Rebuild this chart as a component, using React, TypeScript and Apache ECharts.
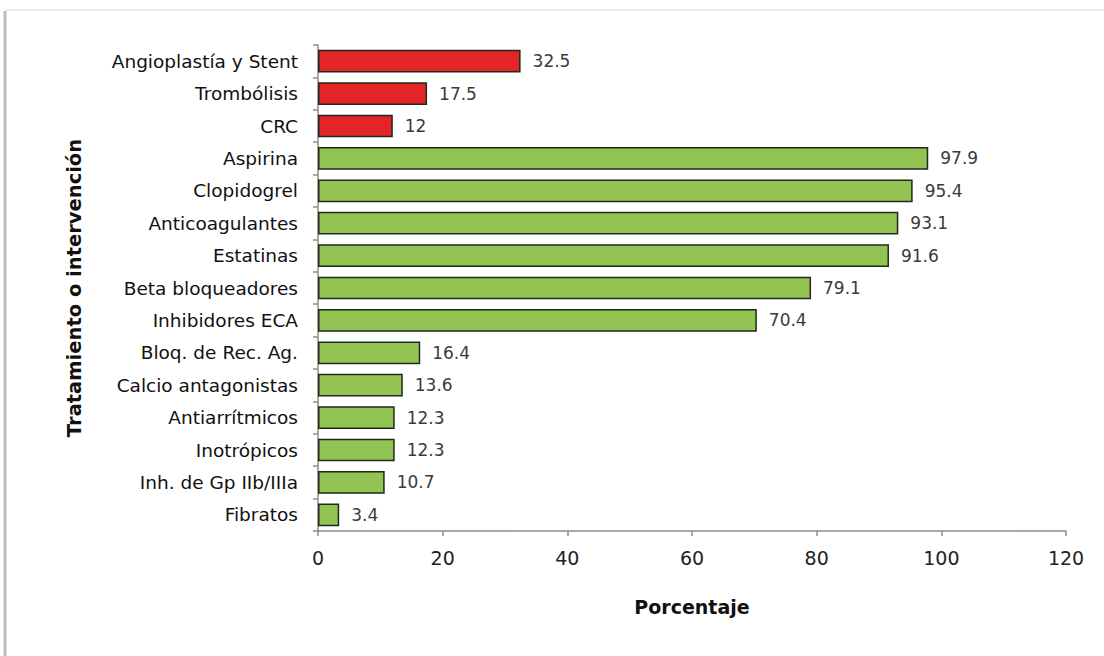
import React, { useEffect, useRef } from "react";
import * as echarts from "echarts";

// Treatments, top to bottom
const categories = [
  "Angioplastía y Stent",
  "Trombólisis",
  "CRC",
  "Aspirina",
  "Clopidogrel",
  "Anticoagulantes",
  "Estatinas",
  "Beta bloqueadores",
  "Inhibidores ECA",
  "Bloq. de Rec. Ag.",
  "Calcio antagonistas",
  "Antiarrítmicos",
  "Inotrópicos",
  "Inh. de Gp IIb/IIIa",
  "Fibratos",
];

const values = [32.5, 17.5, 12, 97.9, 95.4, 93.1, 91.6, 79.1, 70.4, 16.4, 13.6, 12.3, 12.3, 10.7, 3.4];

// Interventional procedures are shown in red, drugs in green
const procedureCount = 3;

const xTicks = [0, 20, 40, 60, 80, 100, 120];

const RED = "#e42527";
const GREEN = "#92c353";
const FONT = "'DejaVu Sans', Verdana, sans-serif";

export default function App() {
  const ref = useRef<HTMLDivElement>(null);

  useEffect(() => {
    if (!ref.current) return;
    const chart = echarts.init(ref.current, null, { renderer: "svg" });
    chart.setOption({
      animation: false,
      backgroundColor: "#ffffff",
      textStyle: { fontFamily: FONT },
      graphic: [
        {
          type: "line",
          shape: { x1: 5, y1: 11, x2: 5, y2: 656 },
          style: { stroke: "#bdbdbd", lineWidth: 3 },
        },
        {
          type: "line",
          shape: { x1: 5, y1: 10, x2: 1104, y2: 10 },
          style: { stroke: "#ececec", lineWidth: 2 },
        },
      ],
      grid: { left: 318, right: 38, top: 45, bottom: 125, containLabel: false },
      xAxis: {
        type: "value",
        min: xTicks[0],
        max: xTicks[xTicks.length - 1],
        interval: 20,
        name: "Porcentaje",
        nameLocation: "middle",
        nameGap: 66,
        nameTextStyle: { fontFamily: FONT, fontWeight: "bold", fontSize: 19, color: "#111" },
        axisLine: { show: true, lineStyle: { color: "#8c8c8c", width: 1.5 } },
        axisTick: { show: true, length: 5, lineStyle: { color: "#8c8c8c", width: 1.5 } },
        axisLabel: { margin: 17, fontSize: 19, color: "#222", fontFamily: FONT },
        splitLine: { show: false },
      },
      yAxis: {
        type: "category",
        data: categories,
        inverse: true,
        name: "Tratamiento o intervención",
        nameLocation: "middle",
        nameRotate: 90,
        nameGap: 234,
        nameTextStyle: { fontFamily: FONT, fontWeight: "bold", fontSize: 19.5, color: "#111" },
        axisLine: { show: true, lineStyle: { color: "#8c8c8c", width: 1.5 } },
        axisTick: { show: true, length: 5, lineStyle: { color: "#8c8c8c", width: 1.5 } },
        axisLabel: { margin: 20, fontSize: 18.5, color: "#111", fontFamily: FONT },
      },
      series: [
        {
          type: "bar",
          barCategoryGap: "30%",
          data: values.map((v, i) => ({
            value: v,
            itemStyle: {
              color: i < procedureCount ? RED : GREEN,
              borderColor: "#1d2a1d",
              borderWidth: 1.5,
            },
          })),
          label: {
            show: true,
            position: "right",
            distance: 12,
            fontSize: 17,
            color: "#3a3a3a",
            fontFamily: FONT,
          },
        },
      ],
    });
    return () => chart.dispose();
  }, []);

  return (
    <div
      ref={ref}
      style={{ position: "fixed", left: 0, top: 0, width: 1104, height: 656 }}
    />
  );
}
